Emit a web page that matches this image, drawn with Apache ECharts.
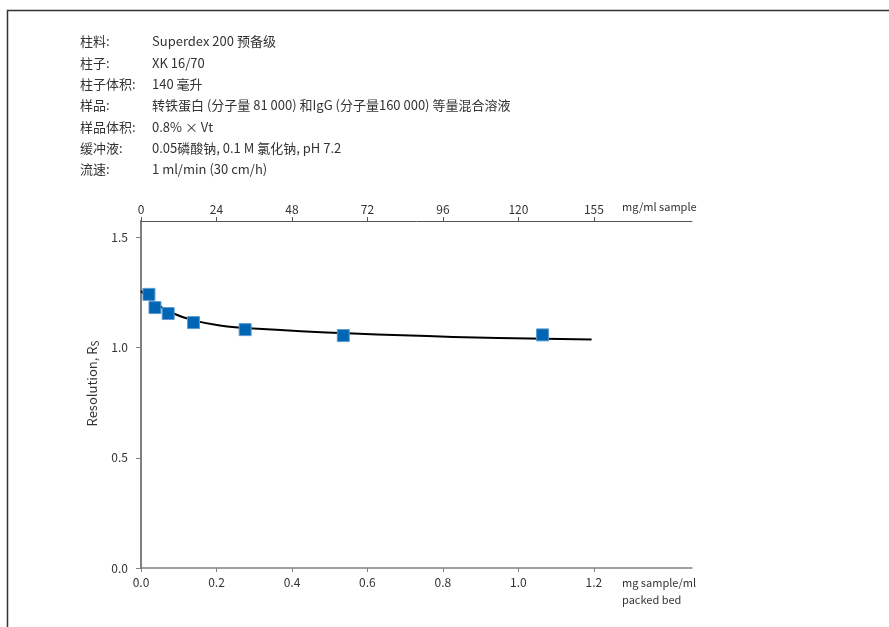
<!DOCTYPE html>
<html><head><meta charset="utf-8">
<script src="https://cdn.jsdelivr.net/npm/echarts@6/dist/echarts.min.js"></script>
<style>html,body{margin:0;padding:0;background:#fff}#c{width:889px;height:627px}</style>
</head><body><div id="c"></div>
<script>
// header info
var headerLabels = ['柱料:', '柱子:', '柱子体积:', '样品:', '样品体积:', '缓冲液:', '流速:'];
var headerValues = ['Superdex 200 预备级', 'XK 16/70', '140 毫升',
  '转铁蛋白 (分子量 81 000) 和IgG (分子量160 000) 等量混合溶液',
  '0.8% × Vt', '0.05磷酸钠, 0.1 M 氯化钠, pH 7.2', '1 ml/min (30 cm/h)'];
// bottom axis ticks (mg sample/ml packed bed) and matching top tick labels (mg/ml sample)
var bottomTicks = [0, 0.2, 0.4, 0.6, 0.8, 1.0, 1.2];
var topTickLabels = ['0', '24', '48', '72', '96', '120', '155'];
var yTicks = [0, 0.5, 1.0, 1.5];
// measured resolution points
var loadX = [0.021, 0.037, 0.072, 0.139, 0.276, 0.536, 1.064];
var resolution = [1.242, 1.182, 1.155, 1.114, 1.082, 1.055, 1.058];
// fitted curve
var curveX = [0, 0.033, 0.086, 0.139, 0.209, 0.297, 0.562, 0.827, 1.194];
var curveY = [1.257, 1.207, 1.155, 1.124, 1.101, 1.087, 1.064, 1.049, 1.037];

var font = '"Noto Sans CJK SC", "Noto Sans", sans-serif';
var txt = '#333';
var axisCol = '#808080';

var chart = echarts.init(document.getElementById('c'));
var graphics = [
  {type: 'polyline', shape: {points: [[7.5, 627], [7.5, 10.5], [889, 10.5]]}, style: {stroke: '#333', lineWidth: 1.5, fill: null}}
];
var rowY = [44, 65.5, 87, 108, 129.5, 151, 172];
headerLabels.forEach(function (l, i) {
  graphics.push({type: 'text', left: 80, top: rowY[i] - 9, style: {text: l, fill: txt, font: '13px ' + font}});
  graphics.push({type: 'text', left: 152, top: rowY[i] - 9, style: {text: headerValues[i], fill: txt, font: '13px ' + font}});
});
graphics.push({type: 'text', left: 622, top: 201, style: {text: 'mg/ml sample', fill: txt, font: '11px ' + font}});
graphics.push({type: 'text', left: 622, top: 574, style: {text: 'mg sample/ml\npacked bed', fill: txt, font: '11px ' + font, lineHeight: 17}});

var option = {
  animation: false,
  backgroundColor: '#fff',
  textStyle: {fontFamily: font},
  grid: {left: 141, right: 197, top: 221, bottom: 59},
  graphic: graphics,
  xAxis: [{
    type: 'value', position: 'bottom', min: 0, max: 1.46, interval: 0.2,
    axisLine: {show: true, onZero: false, lineStyle: {color: axisCol, width: 1.5}},
    axisTick: {show: true, length: 4, customValues: bottomTicks, lineStyle: {color: axisCol}},
    axisLabel: {customValues: bottomTicks, color: txt, fontSize: 12, margin: 8,
      formatter: function (v) { return v.toFixed(1); }},
    splitLine: {show: false}
  }, {
    type: 'value', position: 'top', min: 0, max: 1.46, interval: 0.2,
    axisLine: {show: true, onZero: false, lineStyle: {color: '#555', width: 1}},
    axisTick: {show: true, length: 4, customValues: bottomTicks, lineStyle: {color: '#555'}},
    axisLabel: {customValues: bottomTicks, color: txt, fontSize: 12, margin: 6,
      formatter: function (v) { return topTickLabels[Math.round(v / 0.2)]; }},
    splitLine: {show: false}
  }],
  yAxis: {
    type: 'value', min: 0, max: 1.575, interval: 0.5,
    name: 'Resolution, R{sub|S}', nameLocation: 'middle', nameGap: 38, nameRotate: 90,
    nameTextStyle: {color: txt, fontSize: 13, padding: [0, 0, 0, 22],
      rich: {sub: {fontSize: 10, color: txt, verticalAlign: 'bottom', padding: [6, 0, 0, 0]}}},
    axisLine: {show: true, lineStyle: {color: axisCol, width: 2}},
    axisTick: {show: true, length: 5, customValues: yTicks, lineStyle: {color: axisCol}},
    axisLabel: {customValues: yTicks, color: txt, fontSize: 12, margin: 13,
      formatter: function (v) { return v.toFixed(1); }},
    splitLine: {show: false}
  },
  series: [{
    type: 'line', smooth: 0.4, showSymbol: false, silent: true,
    data: curveX.map(function (x, i) { return [x, curveY[i]]; }),
    lineStyle: {color: '#000', width: 2}, z: 2
  }, {
    type: 'scatter', symbol: 'rect', symbolSize: 12,
    data: loadX.map(function (x, i) { return [x, resolution[i]]; }),
    itemStyle: {color: '#0066b3', borderColor: '#5b9bd0', borderWidth: 1, opacity: 1}, z: 3
  }]
};
chart.setOption(option);
</script></body></html>
